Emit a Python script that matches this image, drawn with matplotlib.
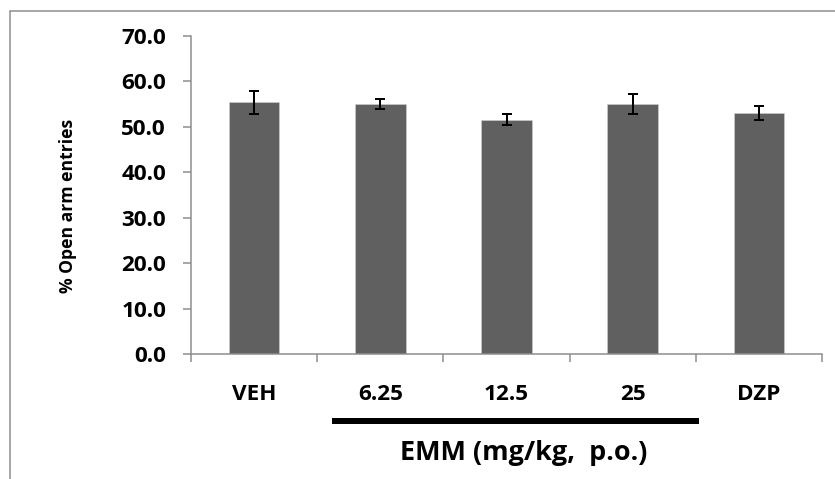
import matplotlib
matplotlib.use("Agg")
import matplotlib.pyplot as plt
from matplotlib.patches import Rectangle
from matplotlib.lines import Line2D

categories = ["VEH", "6.25", "12.5", "25", "DZP"]
values = [55.4, 55.0, 51.6, 55.0, 53.1]
errors = [2.5, 1.15, 1.3, 2.25, 1.5]
yticks = [0, 10, 20, 30, 40, 50, 60, 70]
ytick_labels = [f"{v:.1f}" for v in yticks]
ylabel = "% Open arm entries"
xlabel = "EMM (mg/kg,  p.o.)"

W, H, DPI = 835, 479, 100
plt.rcParams['font.family'] = ['Open Sans', 'DejaVu Sans']
fig = plt.figure(figsize=(W / DPI, H / DPI), dpi=DPI)

def px(v):
    return v * 72.0 / DPI

# outer border
fig.add_artist(Rectangle((9.5 / W, -0.1), 1.2, (H - 11) / H + 0.1,
                         transform=fig.transFigure, fill=False,
                         edgecolor="#8c8c8c", linewidth=px(1.5)))

ax = fig.add_axes([191 / W, (H - 354) / H, (822 - 191) / W, (354 - 36) / H])
x = list(range(len(categories)))
ax.bar(x, values, width=0.4, color="#606060", edgecolor="#d0d0d0", linewidth=0.4, zorder=2)
ax.errorbar(x, values, yerr=errors, fmt="none", ecolor="black",
            elinewidth=px(2), capsize=px(5), capthick=px(2), zorder=3)

ax.set_xlim(-0.5, len(categories) - 0.5)
ax.set_ylim(0, 70)
ax.set_yticks(yticks)
ax.set_yticklabels(ytick_labels, fontsize=px(22.5), fontweight="bold")
ax.set_xticks(x)
ax.set_xticklabels(categories, fontsize=px(22.5), fontweight="bold")
ax.tick_params(axis="x", length=0, pad=px(30))
ax.tick_params(axis="y", length=px(8), width=px(1.5), color="#8c8c8c", pad=px(17))
# x ticks at category boundaries
ax.set_xticks([i - 0.5 for i in range(len(categories) + 1)], minor=True)
ax.tick_params(axis="x", which="minor", length=px(8), width=px(1.5), color="#8c8c8c")

for s in ["top", "right"]:
    ax.spines[s].set_visible(False)
for s in ["left", "bottom"]:
    ax.spines[s].set_color("#8c8c8c")
    ax.spines[s].set_linewidth(px(1.5))

ax.set_ylabel(ylabel, fontsize=px(17.5), fontweight="bold")
ax.yaxis.set_label_coords((68 - 191) / 631, (354 - 206) / 318)
ax.yaxis.label.set_va("center")

# bracket line under dose labels
fig.add_artist(Line2D([332 / W, 699 / W], [(H - 420.5) / H] * 2,
                      transform=fig.transFigure, color="black", linewidth=px(6),
                      solid_capstyle="butt"))
fig.text(524 / W, (H - 453) / H, xlabel, ha="center", va="center",
         fontsize=px(27), fontweight="bold")

fig.savefig("out.png", dpi=DPI, facecolor="white")
